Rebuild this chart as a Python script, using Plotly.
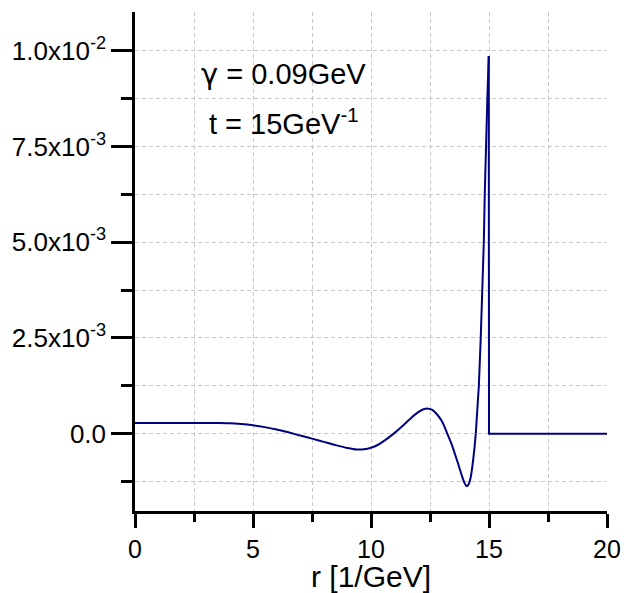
import plotly.graph_objects as go

# r [1/GeV] and the plotted quantity (units of 1e-3)
r_smooth = [0, 1, 2, 3, 3.5, 4, 4.5, 5, 5.5, 6, 6.5, 7, 7.5, 8, 8.5, 9, 9.4, 9.7,
            10, 10.3, 10.6, 10.96, 11.3, 11.7, 12.0, 12.2, 12.42, 12.6, 12.8, 13.0,
            13.12, 13.22, 13.4, 13.55, 13.7, 13.85, 13.95, 14.05, 14.13, 14.22,
            14.3, 14.38, 14.44]
f_smooth_e3 = [0.277, 0.277, 0.277, 0.277, 0.276, 0.27, 0.25, 0.217, 0.17, 0.11,
               0.035, -0.05, -0.13, -0.215, -0.3, -0.375, -0.415, -0.41,
               -0.37, -0.29, -0.17, 0.0, 0.18, 0.41, 0.56, 0.63, 0.653, 0.62, 0.5,
               0.33, 0.17, 0.02, -0.25, -0.52, -0.8, -1.1, -1.27, -1.37, -1.33,
               -1.15, -0.83, -0.4, 0.0]
# steep rise to the peak just below r = 15
r_steep = [14.44, 14.51, 14.57, 14.65, 14.72, 14.78, 14.82, 14.89, 14.93, 14.99]
f_steep_e3 = [0.0, 0.61, 1.25, 2.5, 3.75, 5.0, 6.25, 7.5, 8.75, 9.86]
# vertical drop at r = 15 and flat zero afterwards
r_tail = [14.99, 15.0, 20.0]
f_tail_e3 = [9.86, 0.0, 0.0]

y_tickvals = [0.0, 0.0025, 0.005, 0.0075, 0.01]
y_ticktext = ["0.0", "2.5x10<sup>-3</sup>", "5.0x10<sup>-3</sup>",
              "7.5x10<sup>-3</sup>", "1.0x10<sup>-2</sup>"]
x_tickvals = [0, 5, 10, 15, 20]

line_color = "#000080"
font_family = "Liberation Sans, Arial, sans-serif"

fig = go.Figure()
fig.add_trace(go.Scatter(x=r_smooth, y=[v * 1e-3 for v in f_smooth_e3], mode="lines",
                         line=dict(color=line_color, width=2, shape="spline", smoothing=0.8),
                         showlegend=False, hoverinfo="skip"))
fig.add_trace(go.Scatter(x=r_steep, y=[v * 1e-3 for v in f_steep_e3], mode="lines",
                         line=dict(color=line_color, width=2),
                         showlegend=False, hoverinfo="skip"))
fig.add_trace(go.Scatter(x=r_tail, y=[v * 1e-3 for v in f_tail_e3], mode="lines",
                         line=dict(color=line_color, width=2),
                         showlegend=False, hoverinfo="skip"))

grid_col = "#c8c8c8"
fig.update_layout(
    width=626, height=585,
    margin=dict(l=120, r=27, t=4, b=82),
    paper_bgcolor="white", plot_bgcolor="white",
    font=dict(family=font_family, color="black", size=26),
    xaxis=dict(range=[0, 20], tickmode="array", tickvals=x_tickvals,
               showline=True, linecolor="black", linewidth=2.5,
               ticks="outside", ticklen=14, tickwidth=2.5, tickcolor="black",
               showgrid=True, gridcolor=grid_col, griddash="4px,3px", gridwidth=1,
               zeroline=False, ticklabelstandoff=0,
               minor=dict(tick0=0, dtick=2.5, ticks="outside", ticklen=8, tickwidth=2.5,
                          tickcolor="black", showgrid=True, gridcolor=grid_col,
                          griddash="4px,3px", gridwidth=1),
               tickfont=dict(size=25),
               title=dict(text="r [1/GeV]", font=dict(size=30), standoff=5)),
    yaxis=dict(range=[-0.00202, 0.01101], tickmode="array", tickvals=y_tickvals,
               ticktext=y_ticktext,
               showline=True, linecolor="black", linewidth=2.5,
               ticks="outside", ticklen=21, tickwidth=2.5, tickcolor="black",
               showgrid=True, gridcolor=grid_col, griddash="4px,3px", gridwidth=1,
               zeroline=False,
               minor=dict(tick0=0, dtick=0.00125, ticks="outside", ticklen=11, tickwidth=2.5,
                          tickcolor="black", showgrid=True, gridcolor=grid_col,
                          griddash="4px,3px", gridwidth=1),
               tickfont=dict(size=26)),
    annotations=[
        dict(x=6.31, y=0.00939, xref="x", yref="y",
             text="<span style=\"font-family:'DejaVu Sans'\">γ</span> = 0.09GeV",
             showarrow=False, font=dict(size=29, color="black"),
             xanchor="center", yanchor="middle"),
        dict(x=6.31, y=0.00813, xref="x", yref="y", text="t = 15GeV<sup>-1</sup>",
             showarrow=False, font=dict(size=29, color="black"),
             xanchor="center", yanchor="middle"),
    ],
)

fig.write_html("out.html")
